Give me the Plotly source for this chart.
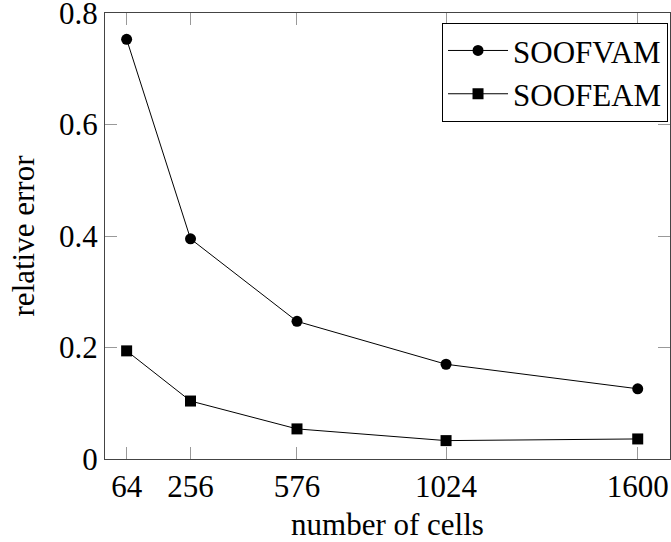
import plotly.graph_objects as go

cells = [64, 256, 576, 1024, 1600]
soofvam = [0.753, 0.395, 0.247, 0.170, 0.126]
soofeam = [0.194, 0.104, 0.054, 0.033, 0.036]
y_ticks = [0, 0.2, 0.4, 0.6, 0.8]
y_tick_text = ["0", "0.2", "0.4", "0.6", "0.8"]
x_tick_text = ["64", "256", "576", "1024", "1600"]

FONT = "Liberation Serif"

fig = go.Figure()
fig.add_trace(go.Scatter(
    x=cells, y=soofvam, name="SOOFVAM", mode="lines+markers",
    line=dict(color="black", width=1),
    marker=dict(symbol="circle", size=11, color="black"),
))
fig.add_trace(go.Scatter(
    x=cells, y=soofeam, name="SOOFEAM", mode="lines+markers",
    line=dict(color="black", width=1),
    marker=dict(symbol="square", size=11, color="black"),
))

axis_common = dict(
    showgrid=False, zeroline=False, showline=True, linecolor="#444", linewidth=1.3,
    mirror="ticks", ticks="inside", ticklen=12, tickcolor="#999", tickwidth=1,
    tickfont=dict(family=FONT, size=31, color="black"), automargin=False,
    ticklabeloverflow="allow",
)

fig.update_layout(
    width=671, height=542,
    margin=dict(l=105, r=1, t=13, b=83),
    paper_bgcolor="white", plot_bgcolor="white",
    font=dict(family=FONT, size=31, color="black"),
    xaxis=dict(range=[-1, 1697], tickvals=cells, ticktext=x_tick_text,
               title=dict(text="number of cells", font=dict(family=FONT, size=31), standoff=17),
               **axis_common),
    yaxis=dict(range=[0, 0.8002], tickvals=y_ticks, ticktext=y_tick_text,
               title=dict(text="relative error", font=dict(family=FONT, size=31), standoff=15),
               **axis_common),
    legend=dict(x=0.9965, y=0.978, xanchor="right", yanchor="top",
                bordercolor="black", borderwidth=1, bgcolor="white",
                font=dict(family=FONT, size=31), tracegroupgap=0, itemwidth=60),
    showlegend=True,
)

fig.write_html("out.html", config={"displayModeBar": False},
               post_script="document.body.style.margin='0';")
